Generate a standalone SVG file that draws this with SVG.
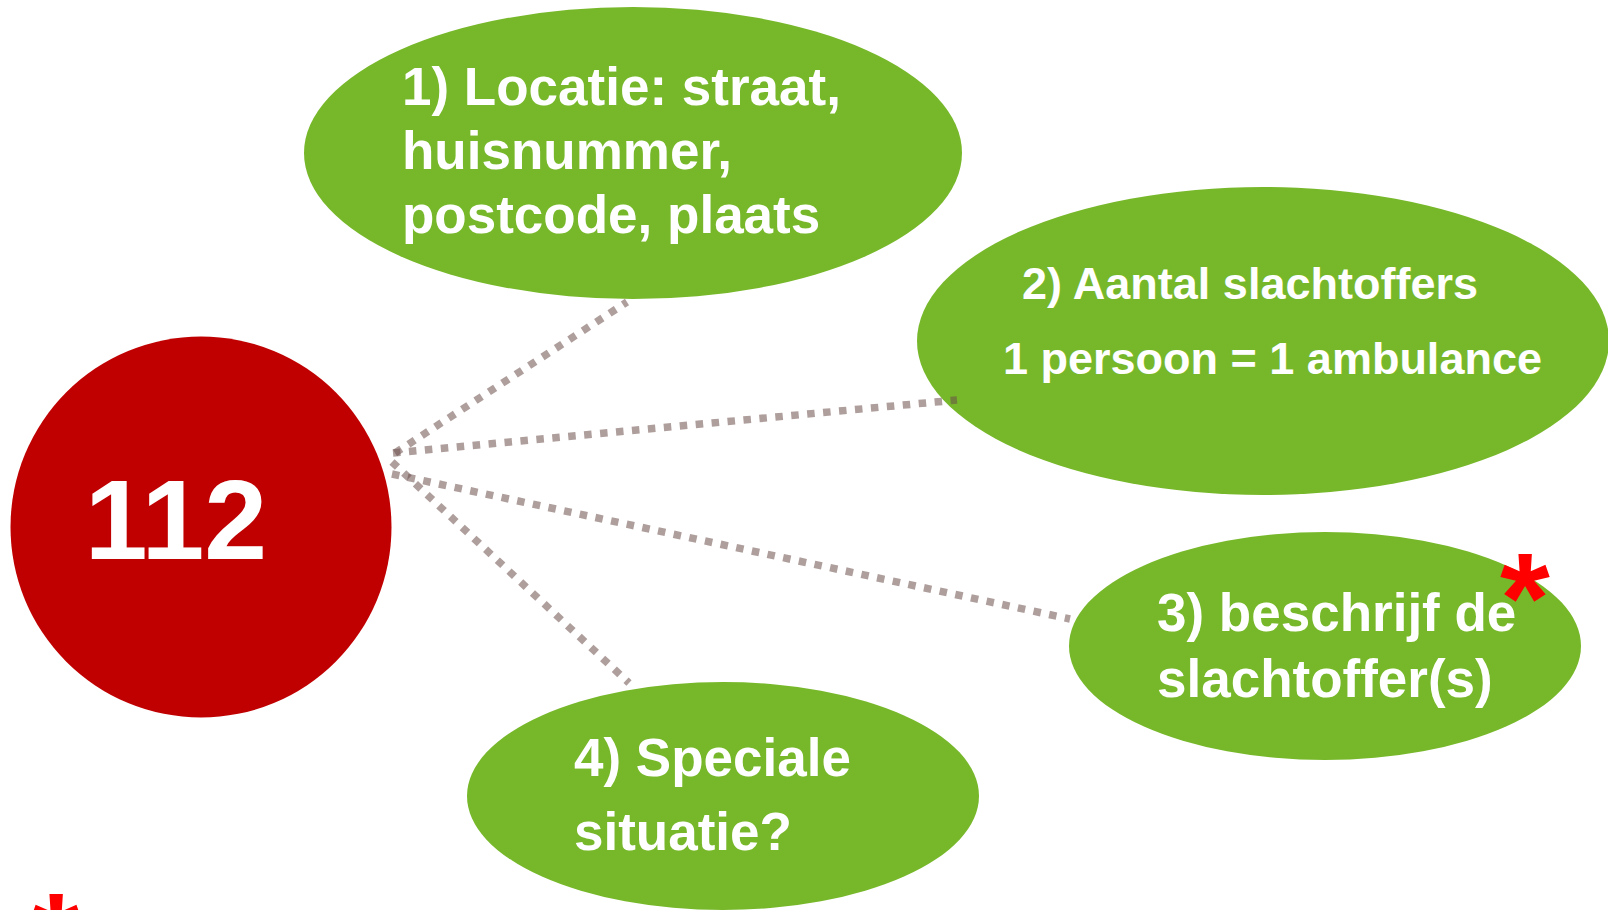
<svg xmlns="http://www.w3.org/2000/svg" width="1608" height="910" viewBox="0 0 1608 910">
  <style>
    .bubble { fill: #77B82A; }
    .lbl { font-family: "Liberation Sans", Arial, sans-serif; font-weight: bold; fill: #FFFFFF; }
    .star { font-family: "Liberation Sans", Arial, sans-serif; font-weight: bold; fill: #FF0000; font-size: 128px; text-anchor: middle; }
    .conn { stroke: #6B4F4A; stroke-opacity: 0.55; stroke-width: 7.5; stroke-dasharray: 7.5 8.5; fill: none; }
  </style>
  <rect width="1608" height="910" fill="#FFFFFF"/>

  <g id="node-112">
    <circle cx="201" cy="527" r="190.5" fill="#C00000"/>
    <text class="lbl" x="176" y="559" font-size="113" text-anchor="middle">112</text>
  </g>

  <g id="node-locatie">
    <ellipse class="bubble" cx="633" cy="153" rx="329" ry="146"/>
    <text class="lbl" font-size="53">
      <tspan x="402" y="105">1) Locatie: straat,</tspan>
      <tspan x="402" y="169">huisnummer,</tspan>
      <tspan x="402" y="233">postcode, plaats</tspan>
    </text>
  </g>

  <g id="node-aantal">
    <ellipse class="bubble" cx="1263" cy="341" rx="346" ry="154"/>
    <text class="lbl" font-size="45">
      <tspan x="1022" y="299">2) Aantal slachtoffers</tspan>
      <tspan x="1003" y="374">1 persoon = 1 ambulance</tspan>
    </text>
  </g>

  <g id="node-beschrijf">
    <ellipse class="bubble" cx="1325" cy="646" rx="256" ry="114"/>
    <text class="lbl" font-size="53">
      <tspan x="1157" y="631">3) beschrijf de</tspan>
      <tspan x="1157" y="697">slachtoffer(s)</tspan>
    </text>
    <text class="star" x="1525" y="642">*</text>
  </g>

  <g id="node-speciale">
    <ellipse class="bubble" cx="723" cy="796" rx="256" ry="114"/>
    <text class="lbl" font-size="53">
      <tspan x="574" y="776">4) Speciale</tspan>
      <tspan x="574" y="850">situatie?</tspan>
    </text>
  </g>

  <g id="connectors">
    <line class="conn" x1="395" y1="453" x2="627" y2="302"/>
    <line class="conn" x1="393" y1="453" x2="957" y2="400"/>
    <line class="conn" x1="392" y1="474" x2="1070" y2="619"/>
    <line class="conn" x1="392" y1="462" x2="629" y2="683"/>
  </g>

  <text class="star" x="56" y="982">*</text>
</svg>
